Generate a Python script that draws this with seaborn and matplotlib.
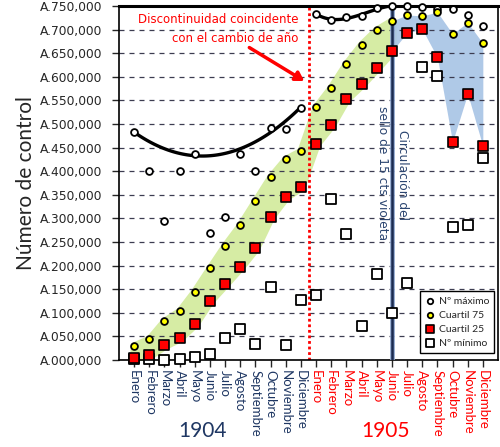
import pandas as pd
import seaborn as sns
import matplotlib.pyplot as plt

meses = ["Enero", "Febrero", "Marzo", "Abril", "Mayo", "Junio", "Julio",
         "Agosto", "Septiembre", "Octubre", "Noviembre", "Diciembre"]

# valores en miles
maximo_1904 = [482, 400, 294, 400, 437, 269, 303, 437, 401, 492, 489, 533]
cuartil75_1904 = [30, 44, 82, 103, 145, 194, 242, 285, 336, 387, 425, 442]
cuartil25_1904 = [5, 10, 31, 47, 77, 126, 161, 197, 237, 304, 346, 367]
minimo_1904 = [3, 1.5, 1, 2, 6, 12, 47, 66, 33, 154, 32, 127]

maximo_1905 = [733, 721, 726, 729, 745, 750, 750, 748, 744, 744, 731, 707]
cuartil75_1905 = [535, 577, 627, 668, 699, 718, 731, 729, 737, 691, 715, 671]
cuartil25_1905 = [458, 498, 554, 584, 619, 654, 693, 701, 641, 462, 564, 453]
minimo_1905 = [138, 341, 266, 71, 183, 99, 164, 621, 601, 282, 286, 427]

# meses que siguen la curva de tendencia del número máximo
tendencia_1904 = ["Enero", "Mayo", "Agosto", "Octubre", "Diciembre"]
tendencia_1905 = ["Enero", "Febrero", "Marzo", "Abril", "Mayo", "Junio"]

df = pd.DataFrame({
    "pos": range(1, 25),
    "mes": meses * 2,
    "anio": [1904] * 12 + [1905] * 12,
    "maximo": [v * 1000 for v in maximo_1904 + maximo_1905],
    "c75": [v * 1000 for v in cuartil75_1904 + cuartil75_1905],
    "c25": [v * 1000 for v in cuartil25_1904 + cuartil25_1905],
    "minimo": [v * 1000 for v in minimo_1904 + minimo_1905],
})

sns.set_style("white")
plt.rcParams["font.family"] = ["DejaVu Sans"]

azul_osc = "#1f3763"

fig, ax = plt.subplots(figsize=(5, 4.47), dpi=100)
fig.subplots_adjust(left=0.238, right=0.996, top=0.9866, bottom=0.1946)

x_cambio = df.loc[df.anio == 1905, "pos"].min() - 0.5
x_sello = df.loc[(df.anio == 1905) & (df.mes == "Junio"), "pos"].item()

# bandas entre cuartiles
verde = df[df.pos <= x_sello]
ax.fill_between(verde.pos, verde.c25, verde.c75, facecolor="#d6eca4",
                edgecolor="#d6eca4", lw=6, joinstyle="round", zorder=0.2)
azul = df[df.pos >= x_sello]
ax.fill_between(azul.pos, azul.c25, azul.c75, facecolor="#a7c3e5",
                lw=0, alpha=0.9, zorder=0.3)

# curvas de tendencia del máximo
t1 = df[(df.anio == 1904) & df.mes.isin(tendencia_1904)]
t2 = df[(df.anio == 1905) & df.mes.isin(tendencia_1905)]
for t in (t1, t2):
    sns.regplot(data=t, x="pos", y="maximo", order=3, ci=None, scatter=False,
                line_kws={"color": "black", "lw": 2.4, "zorder": 2}, ax=ax)

# líneas verticales
ax.axvline(x_cambio, color="red", lw=2, ls=(0, (1, 1)), zorder=2.5)
ax.axvline(x_sello, color="#8ea6cf", lw=3.4, zorder=2.6)
ax.axvline(x_sello, color="#1b2b50", lw=1.8, zorder=2.7)

# puntos
sns.scatterplot(data=df, x="pos", y="maximo", marker="o", s=24, color="white",
                edgecolor="black", linewidth=1.3, label="Nº máximo",
                zorder=5, clip_on=False, ax=ax)
sns.scatterplot(data=df, x="pos", y="c75", marker="o", s=24, color="#ffff00",
                edgecolor="black", linewidth=1.3, label="Cuartil 75",
                zorder=5, clip_on=False, ax=ax)
sns.scatterplot(data=df, x="pos", y="c25", marker="s", s=44, color="#ff0000",
                edgecolor="black", linewidth=1.2, label="Cuartil 25",
                zorder=5, clip_on=False, ax=ax)
sns.scatterplot(data=df, x="pos", y="minimo", marker="s", s=44, color="white",
                edgecolor="black", linewidth=1.3, label="Nº mínimo",
                zorder=4, clip_on=False, ax=ax)

# ejes
ax.set_xlim(0, 25)
ax.set_ylim(0, 750000)
ax.set_yticks(range(0, 750001, 50000))
ax.set_yticklabels([f"A.{v // 1000:03d},000" for v in range(0, 750001, 50000)],
                   fontsize=8.8)
ax.set_xticks(df.pos)
ax.set_xticklabels(df.mes, rotation=-90, fontfamily="Lato", fontsize=9.5)
for lab, anio in zip(ax.get_xticklabels(), df.anio):
    lab.set_color(azul_osc if anio == 1904 else "red")
ax.tick_params(axis="x", length=5, width=1, pad=2, direction="out", bottom=True)
ax.tick_params(axis="y", length=5, width=1, pad=7, direction="out", left=True)
ax.set_xlabel("")
ax.set_ylabel("Número de control", fontfamily="Lato", fontsize=15, labelpad=3)

ax.set_axisbelow(True)
ax.yaxis.grid(True, color="#3c3c50", ls=(0, (4, 4)), lw=0.9)
ax.xaxis.grid(False)
for s in ax.spines.values():
    s.set_color("black")
    s.set_linewidth(1.2)
ax.spines["top"].set_linewidth(2.2)

# años
ax.text(5.5, -0.2, "1904", transform=ax.get_xaxis_transform(), ha="center",
        va="center", fontfamily="Lato", fontsize=15, color=azul_osc)
ax.text(17.6, -0.2, "1905", transform=ax.get_xaxis_transform(), ha="center",
        va="center", fontfamily="Lato", fontsize=15, color="red")

# textos
ax.text(11.81, 701000, "Discontinuidad coincidente\ncon el cambio de año",
        color="red", fontsize=8.5, ha="right", va="center",
        multialignment="right", linespacing=1.6)
ax.annotate("", xy=(12.38, 588000), xytext=(8.44, 665000),
            arrowprops=dict(arrowstyle="-|>,head_length=0.5,head_width=0.3",
                            color="red", lw=2.5))
ax.text(17.41, 397000, "sello de 15 cts violeta", rotation=-90, ha="center",
        va="center", fontsize=8.8, color="#2b4570")
ax.text(18.67, 393000, "Circulación del", rotation=-90, ha="center",
        va="center", fontsize=8.8, color="#2b4570")

leg = ax.legend(loc="lower right", bbox_to_anchor=(0.99, 0.02), frameon=True,
                fancybox=False, edgecolor="black", framealpha=1,
                prop={"family": "Lato", "size": 7.5}, markerscale=0.8,
                handletextpad=0.3, labelspacing=0.45, borderpad=0.5,
                handlelength=1, borderaxespad=0)
leg.get_frame().set_linewidth(1.0)

plt.savefig("out.png", dpi=100)
plt.close()
